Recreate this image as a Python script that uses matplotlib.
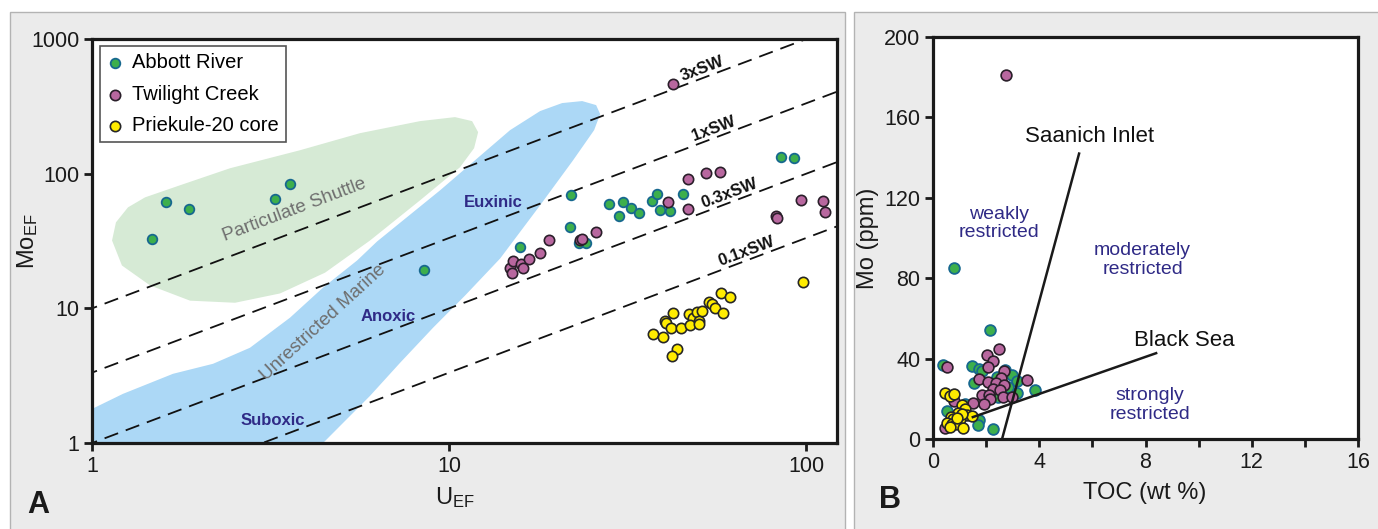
import numpy as np
import matplotlib
matplotlib.use('Agg')
import matplotlib.pyplot as plt
from matplotlib.patches import Polygon, Rectangle
from matplotlib.ticker import FixedLocator, FixedFormatter

plt.rcParams['font.family'] = ['Liberation Sans', 'DejaVu Sans']
plt.rcParams['mathtext.fontset'] = 'custom'
plt.rcParams['mathtext.rm'] = 'Liberation Sans'
plt.rcParams['mathtext.it'] = 'Liberation Sans:italic'
plt.rcParams['mathtext.bf'] = 'Liberation Sans:bold'

# ---------------- data: panel A (U_EF vs Mo_EF) ----------------
abbott_u = [1.47, 1.61, 1.87, 3.26, 3.59, 8.51, 15.8, 22.0, 21.8, 23.1, 24.2, 28.1, 29.9,
            30.7, 32.3, 34.1, 37.0, 38.3, 39.0, 41.6, 45.2, 85.1, 92.5]
abbott_mo = [32.5, 61.2, 54.3, 64.5, 83.4, 19.1, 28.3, 69.0, 39.9, 30.3, 30.3, 59.2, 48.2,
             61.2, 55.2, 50.7, 62.3, 70.2, 53.4, 52.5, 70.2, 132.5, 130.2]

twilight_u = [14.8, 15.1, 15.0, 15.9, 16.1, 16.7, 18.0, 19.1, 23.3, 23.6, 25.8, 41.1, 46.7,
              46.7, 52.5, 57.4, 82.4, 83.0, 96.8, 111.6, 113.0, 42.4]
twilight_mo = [20.1, 22.6, 18.4, 21.5, 20.1, 23.4, 25.6, 31.9, 31.9, 33.0, 36.6, 61.2, 54.3,
               90.8, 100.7, 102.4, 48.2, 46.6, 63.4, 62.3, 51.6, 463]

priekule_u = [37.3, 39.7, 40.3, 40.6, 42.4, 41.9, 44.6, 43.5, 42.2, 47.0, 48.2, 47.3, 49.5,
              50.1, 50.1, 51.1, 53.5, 54.5, 55.6, 58.6, 57.8, 61.2, 98.1]
priekule_mo = [6.48, 6.16, 8.09, 7.83, 9.29, 7.18, 7.18, 5.01, 4.44, 9.14, 8.53, 7.56, 9.45,
               8.09, 7.69, 9.61, 11.2, 10.8, 10.1, 9.29, 12.9, 12.2, 15.8]

sw_factors = [3, 1, 0.3, 0.1]
sw_labels = ['3xSW', '1xSW', '0.3xSW', '0.1xSW']
sw_base_ratio = 3.33          # Mo_EF/U_EF of 1xSW
sw_label_u = [52, 56, 62, 69]

# outline of the "Particulate Shuttle" field (U_EF, Mo_EF)
shuttle_u = [1.138, 1.167, 1.261, 1.408, 1.764, 2.435, 3.825, 5.632, 8.293, 10.39, 11.60,
             12.06, 11.75, 10.73, 8.293, 6.006, 4.494, 3.362, 2.515, 1.882, 1.454, 1.213]
shuttle_mo = [31.9, 43.5, 56.2, 66.7, 82.0, 109.7, 149.3, 199.9, 245.6, 263.0, 245.6,
              203.3, 154.6, 111.6, 63.4, 31.9, 18.4, 12.9, 11.0, 11.4, 14.8, 20.8]

# outline of the "Unrestricted Marine" field (U_EF, Mo_EF)
marine_u = [1.0, 1.0, 1.221, 1.686, 2.183, 2.770, 3.586, 4.437, 5.526, 6.286, 9.436, 14.82,
            17.98, 20.73, 23.59, 25.81, 26.49, 25.48, 22.25, 17.98, 13.90, 11.08, 9.021,
            7.292, 6.006, 4.437]
marine_mo = [1.0, 1.79, 2.317, 3.265, 3.875, 5.098, 8.527, 14.26, 22.66, 31.37, 75.22, 210.5,
             291.5, 334.4, 346.0, 323.0, 276.9, 210.5, 125.8, 58.18, 23.45, 12.43, 7.183,
             3.942, 2.239, 1.0]

# ---------------- data: panel B (TOC vs Mo) ----------------
abbott_toc = [0.79, 2.15, 0.39, 1.48, 1.75, 1.83, 1.55, 2.42, 2.71, 2.96, 3.15, 2.84, 2.44,
              3.18, 3.84, 1.21, 0.52, 1.75, 1.71, 2.25, 2.6]
abbott_mo_b = [85, 54, 37, 36.5, 35, 34, 28, 31, 34.5, 32, 29, 26, 21, 23, 24.5, 17.5, 14,
               9.5, 7, 5.2, 28]

twilight_toc = [2.73, 0.54, 0.79, 0.46, 2.47, 2.05, 2.27, 2.07, 1.72, 2.07, 2.69, 2.55, 2.36,
                2.69, 2.25, 2.53, 1.84, 2.12, 2.15, 2.65, 2.98, 3.53, 1.50, 1.92]
twilight_mo_b = [181, 36, 19, 5.5, 45, 42, 39, 36, 30, 28.5, 34, 30.5, 28, 27, 25, 24.5, 22,
                 22, 20, 21, 21, 29.5, 17.7, 17.4]

priekule_toc = [0.46, 0.64, 0.79, 1.08, 1.21, 0.95, 1.27, 1.46, 0.68, 0.77, 1.02, 0.52, 0.70,
                0.87, 1.14, 0.64, 1.10, 0.90]
priekule_mo_b = [22.7, 21.4, 22.2, 16.9, 14.7, 13.1, 11.9, 11.4, 11.1, 9.8, 9.8, 8.1, 7.5,
                 7.3, 5.3, 6.1, 12.5, 10.5]

saanich_toc = [2.6, 5.5]
saanich_mo = [0, 142]
blacksea_toc = [1.5, 8.4]
blacksea_mo = [10.9, 42.7]

# ---------------- styles ----------------
c_abbott, e_abbott = '#3daf4c', '#17688f'
c_twi, e_twi = '#b8679f', '#2a1f2a'
c_pri, e_pri = '#ffec00', '#262626'
c_region = '#2f2a86'
c_grey = '#6e6e6e'

W, H = 1378, 529
fig = plt.figure(figsize=(W / 100, H / 100), dpi=100)
fig.patch.set_facecolor('white')
fig.add_artist(Rectangle((10 / W, -0.02), 835 / W, 1 - 12 / H + 0.02, transform=fig.transFigure,
                         facecolor='#ebebeb', edgecolor='#b3b3b3', lw=1.0, zorder=-10))
fig.add_artist(Rectangle((854 / W, -0.02), 0.5, 1 - 12 / H + 0.02, transform=fig.transFigure,
                         facecolor='#ebebeb', edgecolor='#b3b3b3', lw=1.0, zorder=-10))

# ================= Panel A =================
ax = fig.add_axes([92 / W, 1 - 443 / H, 745 / W, 404 / H])
ax.set_facecolor('white')
ax.set_xscale('log')
ax.set_yscale('log')
ax.set_xlim(1, 122)
ax.set_ylim(1, 1000)

ax.add_patch(Polygon(np.column_stack([shuttle_u, shuttle_mo]), closed=True,
                     facecolor='#d6ead5', edgecolor='none', zorder=1))
ax.add_patch(Polygon(np.column_stack([marine_u, marine_mo]), closed=True,
                     facecolor='#acd8f6', edgecolor='none', zorder=1.5))

fig.canvas.draw()
p0 = ax.transData.transform((1, 1))
p1 = ax.transData.transform((10, 10))
ang = np.degrees(np.arctan2(p1[1] - p0[1], p1[0] - p0[0]))

u_line = np.array([0.5, 300])
for f, lab, ul in zip(sw_factors, sw_labels, sw_label_u):
    r = sw_base_ratio * f
    ax.plot(u_line, r * u_line, color='#111111', lw=1.3, dashes=(8, 4.5), zorder=2)
    ax.text(ul, r * ul * 1.02, lab, rotation=ang, rotation_mode='anchor', ha='center',
            va='bottom', fontsize=12, fontweight='bold', color='#111111', zorder=5)

ax.text(3.70, 53.4, 'Particulate Shuttle', rotation=ang, rotation_mode='anchor', ha='center',
        va='center', fontsize=13.5, color=c_grey, zorder=3)
ax.text(4.44, 7.83, 'Unrestricted Marine', rotation=42.5, rotation_mode='anchor', ha='center',
        va='center', fontsize=13.5, color=c_grey, zorder=3)
ax.text(13.3, 61.2, 'Euxinic', ha='center', va='center', fontsize=12, fontweight='bold',
        color=c_region, zorder=3)
ax.text(6.75, 8.67, 'Anoxic', ha='center', va='center', fontsize=12, fontweight='bold',
        color=c_region, zorder=3)
ax.text(3.21, 1.46, 'Suboxic', ha='center', va='center', fontsize=12, fontweight='bold',
        color=c_region, zorder=3)

h1 = ax.scatter(abbott_u, abbott_mo, s=48, facecolor=c_abbott, edgecolor=e_abbott, lw=1.3,
                zorder=6, label='Abbott River')
h2 = ax.scatter(twilight_u, twilight_mo, s=55, facecolor=c_twi, edgecolor=e_twi, lw=1.2,
                zorder=6, label='Twilight Creek')
h3 = ax.scatter(priekule_u, priekule_mo, s=55, facecolor=c_pri, edgecolor=e_pri, lw=1.2,
                zorder=6, label='Priekule-20 core')

leg = ax.legend(handles=[h1, h2, h3], loc='upper left', bbox_to_anchor=(0.011, 0.982),
                borderaxespad=0, fontsize=14.5, frameon=True, fancybox=False,
                edgecolor='#555555', framealpha=1, labelspacing=0.62, handlelength=0.8,
                handletextpad=0.45, borderpad=0.35, scatterpoints=1)
leg.get_frame().set_linewidth(1.2)
leg.set_zorder(10)

ax.xaxis.set_major_locator(FixedLocator([1, 10, 100]))
ax.xaxis.set_major_formatter(FixedFormatter(['1', '10', '100']))
ax.yaxis.set_major_locator(FixedLocator([1, 10, 100, 1000]))
ax.yaxis.set_major_formatter(FixedFormatter(['1', '10', '100', '1000']))
ax.xaxis.set_minor_locator(FixedLocator([]))
ax.yaxis.set_minor_locator(FixedLocator([]))
ax.tick_params(direction='out', length=6, width=2, labelsize=15.5, pad=3, colors='#1a1a1a')
for sp in ax.spines.values():
    sp.set_linewidth(2.3)
    sp.set_color('#1a1a1a')

fig.text(28 / W, 1 - 241 / H, r'Mo$_{\mathrm{EF}}$', rotation=90, ha='center', va='center',
         fontsize=17, color='#1a1a1a')
fig.text(455 / W, 1 - 498 / H, r'U$_{\mathrm{EF}}$', ha='center', va='center',
         fontsize=17, color='#1a1a1a')
fig.text(38 / W, 1 - 505 / H, 'A', ha='center', va='center', fontsize=22,
         fontweight='bold', color='#1a1a1a')

# ================= Panel B =================
bx = fig.add_axes([933 / W, 1 - 439 / H, 425 / W, 402 / H])
bx.set_facecolor('white')
bx.set_xlim(0, 16)
bx.set_ylim(0, 200)

bx.scatter(abbott_toc, abbott_mo_b, s=60, facecolor=c_abbott, edgecolor=e_abbott, lw=1.3,
           zorder=4)
bx.scatter(twilight_toc, twilight_mo_b, s=60, facecolor=c_twi, edgecolor=e_twi, lw=1.2,
           zorder=5)
bx.scatter(priekule_toc, priekule_mo_b, s=60, facecolor=c_pri, edgecolor=e_pri, lw=1.2,
           zorder=6)

bx.plot(saanich_toc, saanich_mo, color='#1a1a1a', lw=1.8, zorder=7)
bx.plot(blacksea_toc, blacksea_mo, color='#1a1a1a', lw=1.8, zorder=7)

bx.text(5.89, 150.3, 'Saanich Inlet', ha='center', va='center', fontsize=16, color='#111111')
bx.text(9.47, 49.2, 'Black Sea', ha='center', va='center', fontsize=16, color='#111111')
bx.text(2.49, 107.2, 'weakly\nrestricted', ha='center', va='center', fontsize=14,
        color=c_region, linespacing=1.1)
bx.text(7.89, 89, 'moderately\nrestricted', ha='center', va='center', fontsize=14,
        color=c_region, linespacing=1.1)
bx.text(8.18, 16.9, 'strongly\nrestricted', ha='center', va='center', fontsize=14,
        color=c_region, linespacing=1.1)

bx.set_xticks([0, 4, 8, 12, 16])
bx.set_xticks([2, 6, 10, 14], minor=True)
bx.set_yticks([0, 40, 80, 120, 160, 200])
bx.tick_params(which='both', direction='out', length=6, width=2, labelsize=15.5, pad=3,
               colors='#1a1a1a')
for sp in bx.spines.values():
    sp.set_linewidth(2.3)
    sp.set_color('#1a1a1a')

fig.text(868 / W, 1 - 238 / H, 'Mo (ppm)', rotation=90, ha='center', va='center',
         fontsize=17, color='#1a1a1a')
fig.text(1145 / W, 1 - 493 / H, 'TOC (wt %)', ha='center', va='center',
         fontsize=17, color='#1a1a1a')
fig.text(890 / W, 1 - 500 / H, 'B', ha='center', va='center', fontsize=22,
         fontweight='bold', color='#1a1a1a')

fig.savefig('out.png', dpi=100, facecolor=fig.get_facecolor())
